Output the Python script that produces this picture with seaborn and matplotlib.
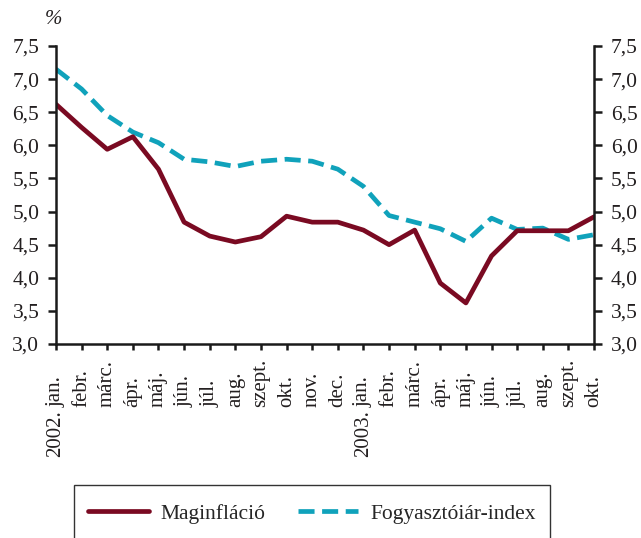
import pandas as pd
import matplotlib.pyplot as plt
import seaborn as sns
from matplotlib.patches import Rectangle
from matplotlib.ticker import FuncFormatter, MultipleLocator
from matplotlib.lines import Line2D
from matplotlib.transforms import blended_transform_factory

months = ['jan.', 'febr.', 'márc.', 'ápr.', 'máj.', 'jún.', 'júl.', 'aug.',
          'szept.', 'okt.', 'nov.', 'dec.', 'jan.', 'febr.', 'márc.', 'ápr.',
          'máj.', 'jún.', 'júl.', 'aug.', 'szept.', 'okt.']
years = {0: '2002.', 12: '2003.'}
maginflacio = [6.62, 6.27, 5.94, 6.13, 5.64, 4.84, 4.63, 4.54, 4.62, 4.93, 4.84,
               4.84, 4.72, 4.50, 4.72, 3.92, 3.62, 4.33, 4.71, 4.71, 4.71, 4.92]
fogyasztoiar = [7.15, 6.85, 6.45, 6.20, 6.04, 5.79, 5.75, 5.68, 5.76, 5.79, 5.76,
                5.64, 5.38, 4.94, 4.84, 4.74, 4.55, 4.90, 4.73, 4.75, 4.58, 4.65]

RED = '#7a0a22'
TEAL = '#10a2bb'
TXT = '#231f20'
DASH = (0, (3.4, 1.6))

df = pd.DataFrame({'idx': range(len(months)),
                   'Maginfláció': maginflacio,
                   'Fogyasztóiár-index': fogyasztoiar})

sns.set_style('white')
plt.rcParams['font.family'] = ['Liberation Serif', 'DejaVu Serif']

fig = plt.figure(figsize=(6.41, 5.38), dpi=100)
W, H = 641, 538
ax = fig.add_axes([56 / W, 1 - 344 / H, (594 - 56) / W, (344 - 46) / H])

sns.lineplot(x='idx', y='Fogyasztóiár-index', data=df, ax=ax, color=TEAL,
             linewidth=3.4, linestyle=DASH)
sns.lineplot(x='idx', y='Maginfláció', data=df, ax=ax, color=RED, linewidth=3.4)

ax.set_xlim(0, len(months) - 1)
ax.set_ylim(3.0, 7.5)
ax.set_xticks(range(len(months)))
ax.set_xticklabels(months, rotation=90, fontsize=15, color=TXT, va='bottom')
ax.yaxis.set_major_locator(MultipleLocator(0.5))
ax.yaxis.set_major_formatter(FuncFormatter(lambda v, p: f'{v:.1f}'.replace('.', ',')))
ax.set_xlabel('')
ax.set_ylabel('')

for side in ['left', 'right', 'bottom']:
    ax.spines[side].set_visible(True)
    ax.spines[side].set_color('#1a1a1a')
    ax.spines[side].set_linewidth(1.8)
ax.spines['top'].set_visible(False)

ax.tick_params(axis='both', direction='out', width=1.8, color='#1a1a1a',
               labelsize=15.5, labelcolor=TXT)
ax.tick_params(axis='y', left=True, right=True, labelleft=True, labelright=True,
               length=6, pad=6)
# month names start at ~407 px and run upward
ax.tick_params(axis='x', bottom=True, labelsize=15, length=4.5,
               pad=(407 - 344) * 0.72 - 4.5)

# year prefix below the month name
tr = blended_transform_factory(ax.transData, fig.transFigure)
for i, y in years.items():
    ax.text(i, 1 - 410 / H, y, transform=tr, rotation=90, ha='center', va='top',
            fontsize=15, color=TXT)

fig.text(54 / W, 1 - 19 / H, '%', fontsize=15, style='italic', ha='center', va='center',
         color=TXT)

# legend box
fig.patches.append(Rectangle((74 / W, -0.02), (550 - 74) / W, 0.02 + (538 - 485) / H,
                             transform=fig.transFigure, fill=False,
                             edgecolor='#333333', linewidth=1.0))
handles = [Line2D([], [], color=RED, linewidth=3.4),
           Line2D([], [], color=TEAL, linewidth=3.4, linestyle=DASH)]
fig.legend(handles, ['Maginfláció', 'Fogyasztóiár-index'], loc='center',
           bbox_to_anchor=(312 / W, 1 - 514 / H), ncol=2, frameon=False,
           fontsize=15.5, handlelength=2.8, columnspacing=1.5, handletextpad=0.55)

fig.savefig('out.png', dpi=100)
plt.close(fig)
